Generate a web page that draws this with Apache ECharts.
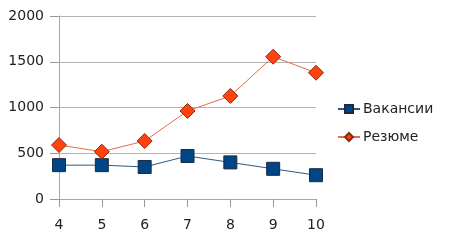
<!DOCTYPE html>
<html><head><meta charset="utf-8">
<script src="https://cdn.jsdelivr.net/npm/echarts@6/dist/echarts.min.js"></script>
<style>html,body{margin:0;padding:0;background:#fff}#c{width:453px;height:248px}</style>
</head><body><div id="c"></div>
<script>
const categories = ['4','5','6','7','8','9','10'];
const vacancies = [370, 370, 350, 470, 400, 330, 260];
const resumes = [590, 517, 634, 962, 1126, 1555, 1380];
const seriesNames = ['Вакансии', 'Резюме'];
const yTicks = {min: 0, max: 2000, interval: 500};

const chart = echarts.init(document.getElementById('c'), null, {renderer: 'canvas'});
const font = 'DejaVu Sans';
const tickStyle = {color: '#999', width: 1};
chart.setOption({
  animation: false,
  backgroundColor: '#fff',
  textStyle: {fontFamily: font},
  grid: {left: 59, right: 137, top: 16, bottom: 49, containLabel: false},
  legend: {
    data: seriesNames,
    orient: 'vertical',
    left: 332, top: 97,
    itemWidth: 22, itemHeight: 10, itemGap: 14,
    textStyle: {fontFamily: font, fontSize: 14, color: '#222', padding: [0,0,0,-2]}
  },
  xAxis: {
    type: 'category', data: categories, boundaryGap: false,
    axisLine: {show: true, onZero: false, lineStyle: {color: '#a8a8a8', width: 1}},
    axisTick: {show: true, interval: 0, inside: false, length: 8, lineStyle: tickStyle},
    axisLabel: {fontFamily: font, fontSize: 14, color: '#222', margin: 19},
    splitLine: {show: false}
  },
  yAxis: {
    type: 'value', min: yTicks.min, max: yTicks.max, interval: yTicks.interval,
    axisLine: {show: true, lineStyle: {color: '#a8a8a8', width: 1}},
    axisTick: {show: true, inside: false, length: 9, lineStyle: tickStyle},
    axisLabel: {fontFamily: font, fontSize: 14, color: '#222', margin: 15, formatter: v => String(v)},
    splitLine: {show: true, lineStyle: {color: '#b3b3b3', width: 1}}
  },
  series: [
    {
      name: seriesNames[0], type: 'line', data: vacancies,
      symbol: 'rect', symbolSize: 13,
      itemStyle: {color: '#004586', borderColor: '#1a2a40', borderWidth: 1},
      lineStyle: {color: '#2d5a80', width: 1}
    },
    {
      name: seriesNames[1], type: 'line', data: resumes,
      symbol: 'diamond', symbolSize: 15,
      itemStyle: {color: '#ff420e', borderColor: '#8a2a10', borderWidth: 1},
      lineStyle: {color: '#e0704a', width: 1}
    }
  ]
});
</script></body></html>
